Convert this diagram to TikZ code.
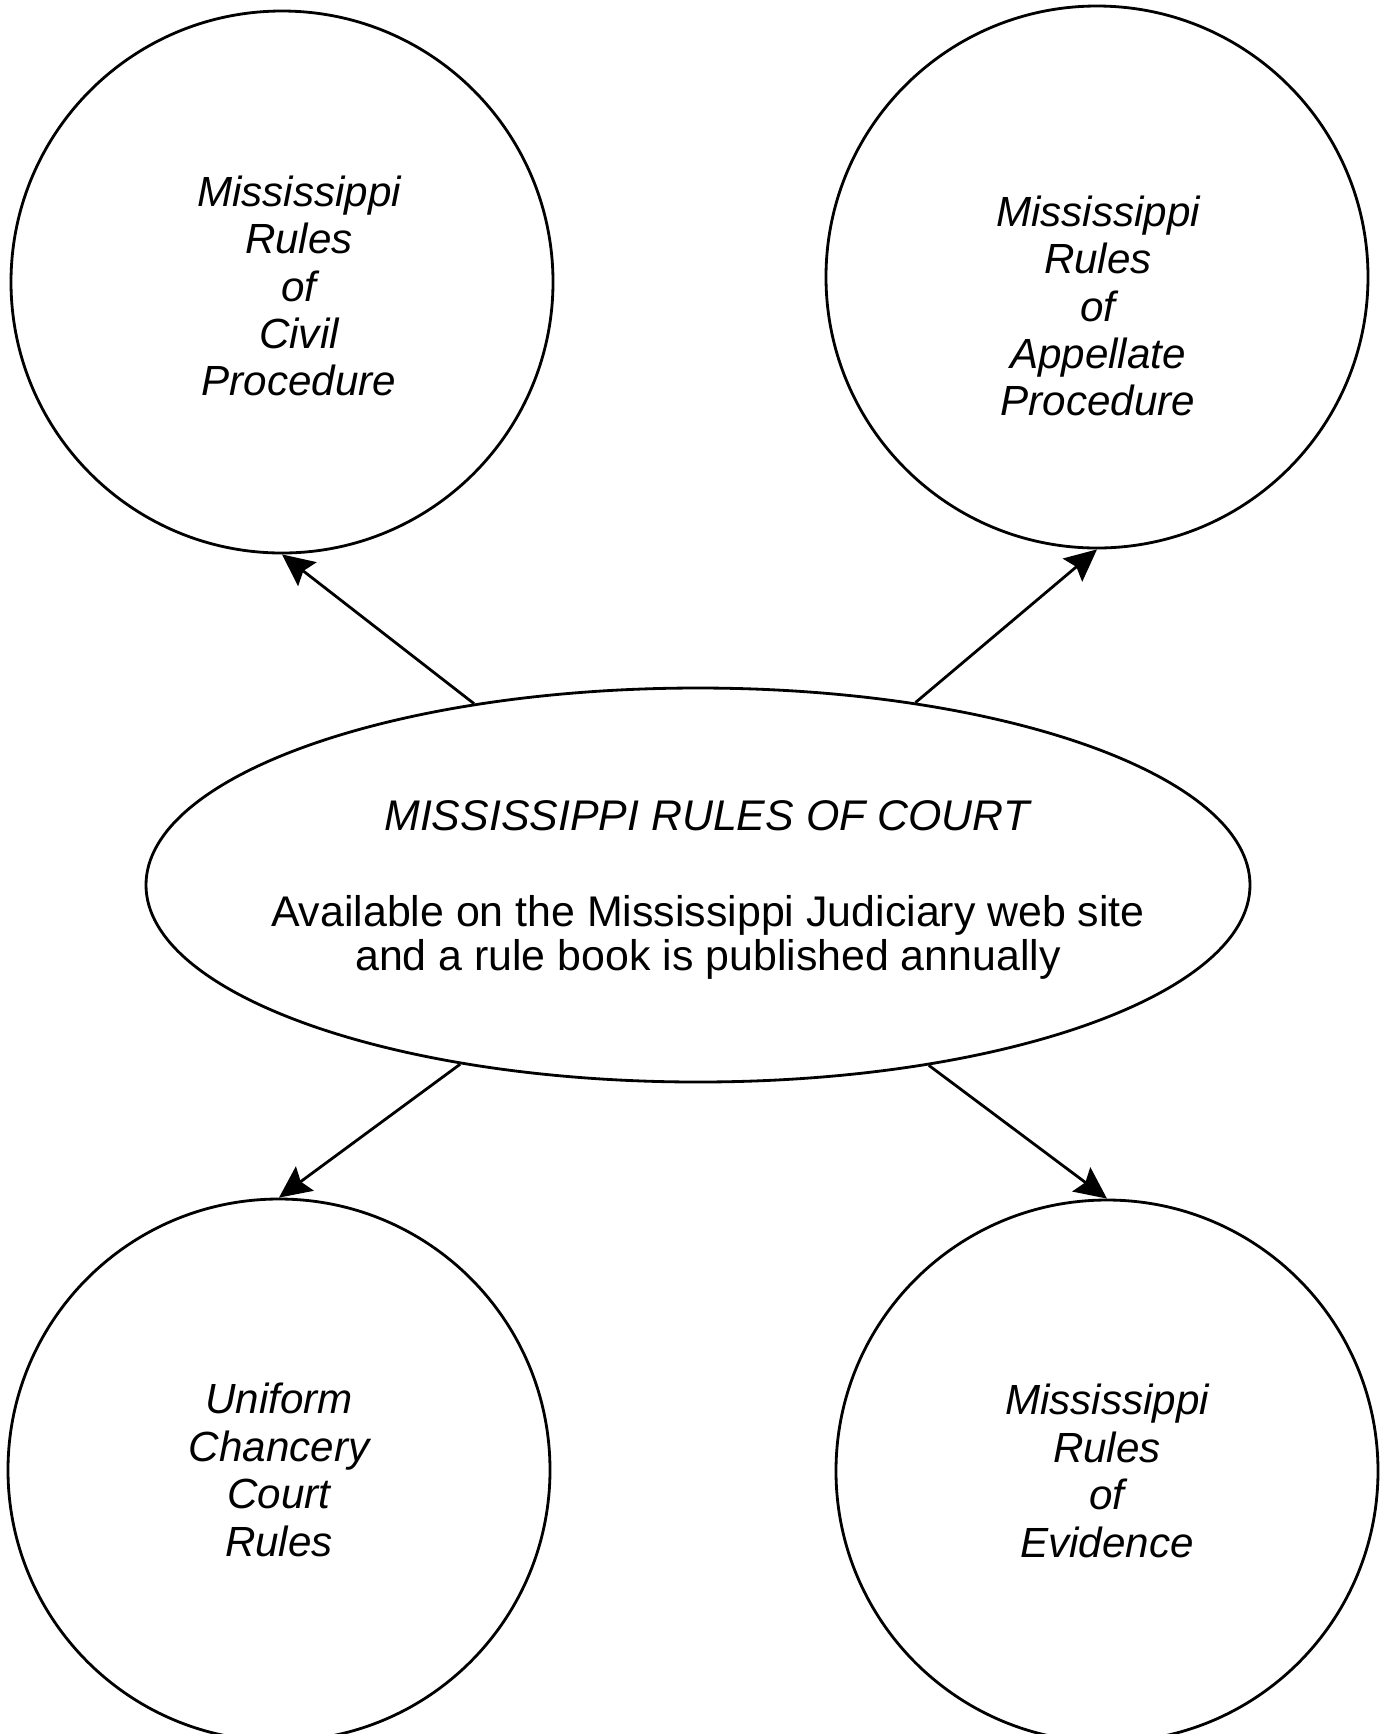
\documentclass[tikz,border=0pt]{standalone}
\usepackage{fontspec}
\setmainfont{Liberation Sans}
\usetikzlibrary{shapes.geometric,arrows.meta}

\begin{document}
\begin{tikzpicture}[
	rulebook/.style={draw,circle,line width=0.8pt,minimum size=5.42cm,inner sep=0pt},
	ruletext/.style={align=center,inner sep=0pt,font=\itshape\fontsize{12}{13.5}\selectfont},
	courtrules/.style={draw,ellipse,line width=0.8pt,minimum width=11.04cm,minimum height=3.94cm,inner sep=0pt},
	courttext/.style={align=center,inner sep=0pt,font=\fontsize{12.2}{12.5}\selectfont},
	link/.style={line width=0.8pt,-{Stealth[length=0.32cm,width=0.3cm,inset=0.05cm]}}]

	\useasboundingbox (0,0) rectangle (13.79,-17.34);

	\node[courtrules,label={[courttext,shift={(0.1,-0.05)}]center:{\textit{MISSISSIPPI RULES OF COURT}\\[15pt]Available on the Mississippi Judiciary web site\\and a rule book is published annually}}] (mrc) at (6.98,-8.85) {};

	\node[rulebook,label={[ruletext,shift={(0.17,-0.04)}]center:{Mississippi\\Rules\\of\\Civil\\Procedure}}] (civil) at (2.82,-2.82) {};
	\node[rulebook,label={[ruletext,shift={(0.01,-0.29)}]center:{Mississippi\\Rules\\of\\Appellate\\Procedure}}] (appellate) at (10.97,-2.77) {};
	\node[rulebook,label={[ruletext]center:{Uniform\\Chancery\\Court\\Rules}}] (chancery) at (2.79,-14.70) {};
	\node[rulebook,label={[ruletext]center:{Mississippi\\Rules\\of\\Evidence}}] (evidence) at (11.07,-14.71) {};

	\draw[link] (mrc.141) -- (civil.south);
	\draw[link] (mrc.40) -- (appellate.south);
	\draw[link] (mrc.217) -- (chancery.north);
	\draw[link] (mrc.322) -- (evidence.north);
\end{tikzpicture}
\end{document}
